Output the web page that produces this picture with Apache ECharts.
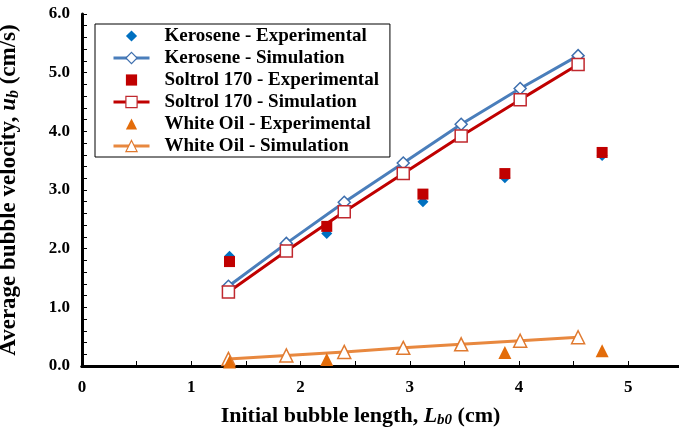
<!DOCTYPE html>
<html>
<head>
<meta charset="utf-8">
<script src="https://cdn.jsdelivr.net/npm/echarts@6/dist/echarts.min.js"></script>
<style>
  html, body { margin: 0; padding: 0; background: #fff; }
  #chart { width: 679px; height: 431px; }
</style>
</head>
<body>
<div id="chart"></div>
<script>
// Initial bubble length (cm) for the simulation runs
const lengthSim = [1.34, 1.87, 2.40, 2.94, 3.47, 4.01, 4.54];
const keroseneSim = [1.36, 2.09, 2.79, 3.46, 4.12, 4.73, 5.29];
const soltrolSim = [1.26, 1.96, 2.63, 3.28, 3.92, 4.54, 5.14];
const whiteOilSim = [0.12, 0.18, 0.24, 0.31, 0.37, 0.43, 0.49];

// Experimental measurements
const lengthExp = [1.35, 2.24, 3.12, 3.87, 4.76];
const keroseneExp = [1.87, 2.26, 2.80, 3.21, 3.59];
const soltrolExp = [1.78, 2.38, 2.93, 3.28, 3.64];
const whiteOilExpLength = [1.35, 2.24, 3.87, 4.76];
const whiteOilExp = [0.07, 0.11, 0.23, 0.26];

const seriesNames = [
  'Kerosene - Experimental', 'Kerosene - Simulation',
  'Soltrol 170 - Experimental', 'Soltrol 170 - Simulation',
  'White Oil - Experimental', 'White Oil - Simulation'
];

const pairs = (xs, ys) => xs.map((x, i) => [x, ys[i]]);
const FONT = '"Liberation Serif", "Times New Roman", serif';

const chart = echarts.init(document.getElementById('chart'));

// Measured points: markers only (line kept invisible so the legend icon keeps its shape)
function expSeries(name, xs, ys, symbol, size, color, z) {
  return {
    name, type: 'line', data: pairs(xs, ys), symbol, symbolSize: size,
    showSymbol: true,
    lineStyle: { width: 0, opacity: 0 },
    itemStyle: { color, borderWidth: 0 },
    z
  };
}
// Simulated points: solid line with hollow markers
function simSeries(name, xs, ys, symbol, size, lineColor, markColor, z) {
  return {
    name, type: 'line', data: pairs(xs, ys), symbol, symbolSize: size,
    showSymbol: true,
    lineStyle: { color: lineColor, width: 3 },
    itemStyle: { color: '#fff', borderColor: markColor, borderWidth: 1.5 },
    z
  };
}

function titleRich(size) {
  return {
    i: { fontFamily: FONT, fontWeight: 'bold', fontStyle: 'italic', fontSize: size, color: '#000' },
    sub: { fontFamily: FONT, fontWeight: 'bold', fontStyle: 'italic', fontSize: size - 7, color: '#000', padding: [9, 0, 0, 0] },
    t: { fontFamily: FONT, fontWeight: 'bold', fontSize: size, color: '#000' }
  };
}

// Legend entries; simulation entries get the thicker line of the plotted curves
const legendData = seriesNames.map((name, i) =>
  i % 2 === 1 ? { name, lineStyle: { width: 3 }, itemStyle: { borderWidth: 1.2 } } : { name }
);

chart.setOption({
  animation: false,
  backgroundColor: '#fff',
  textStyle: { fontFamily: FONT },
  grid: { left: 82, right: -4, top: 14, bottom: 65, containLabel: false, outerBoundsMode: 'none' },
  legend: {
    orient: 'vertical', left: 95, top: 24,
    data: legendData,
    backgroundColor: '#fff',
    borderColor: '#000', borderWidth: 1,
    padding: [2, 11, 1, 17],
    itemWidth: 36, itemHeight: 14, itemGap: 2,
    textStyle: { fontFamily: FONT, fontWeight: 'bold', fontSize: 19, lineHeight: 20, color: '#000', padding: [0, 0, 0, 10] }
  },
  xAxis: [{
    type: 'value', min: 0, max: 5.5, interval: 1,
    name: 'Initial bubble length, {i|L}{sub|b0} {t|(cm)}',
    nameLocation: 'middle', nameGap: 38,
    nameTextStyle: {
      fontFamily: FONT, fontWeight: 'bold', fontSize: 22, color: '#000', padding: [0, 44, 0, 0],
      rich: titleRich(22)
    },
    axisLine: { show: true, onZero: false, lineStyle: { color: '#000', width: 3 } },
    axisTick: { show: true, inside: true, length: 5, lineStyle: { color: '#000', width: 1 } },
    minorTick: { show: true, splitNumber: 2, length: 5, lineStyle: { color: '#000', width: 1 } },
    axisLabel: {
      fontFamily: FONT, fontWeight: 'bold', fontSize: 17, color: '#000', margin: 13,
      formatter: v => (v > 5.2 ? '' : String(v))
    },
    splitLine: { show: false }
  }, {
    type: 'value', position: 'top', min: 0, max: 5.5,
    axisLine: { show: true, lineStyle: { color: '#000', width: 3 } },
    axisTick: { show: false }, axisLabel: { show: false }, splitLine: { show: false }
  }],
  yAxis: {
    type: 'value', min: 0, max: 6, interval: 1,
    name: 'Average bubble velocity, {i|u}{sub|b} {t|(cm/s)}',
    nameLocation: 'middle', nameGap: 60, nameRotate: 90,
    nameTextStyle: {
      fontFamily: FONT, fontWeight: 'bold', fontSize: 23, color: '#000',
      rich: titleRich(23)
    },
    axisLine: { show: true, onZero: false, lineStyle: { color: '#000', width: 3 } },
    axisTick: { show: true, inside: true, length: 5, lineStyle: { color: '#000', width: 1 } },
    minorTick: { show: true, splitNumber: 5, length: 5, lineStyle: { color: '#000', width: 1 } },
    axisLabel: {
      fontFamily: FONT, fontWeight: 'bold', fontSize: 17, color: '#000', margin: 12,
      formatter: v => v.toFixed(1)
    },
    splitLine: { show: false }
  },
  series: [
    expSeries(seriesNames[0], lengthExp, keroseneExp, 'diamond', 11, '#0070C0', 3),
    simSeries(seriesNames[1], lengthSim, keroseneSim, 'diamond', 12, '#4A7EBB', '#3E6FAE', 2),
    expSeries(seriesNames[2], lengthExp, soltrolExp, 'rect', 11, '#C00000', 4),
    simSeries(seriesNames[3], lengthSim, soltrolSim, 'rect', 12, '#C00000', '#C0282E', 2),
    expSeries(seriesNames[4], whiteOilExpLength, whiteOilExp, 'triangle', 13, '#E36C0A', 5),
    simSeries(seriesNames[5], lengthSim, whiteOilSim, 'triangle', 13, '#E8883F', '#E07A30', 2)
  ]
});
</script>
</body>
</html>
